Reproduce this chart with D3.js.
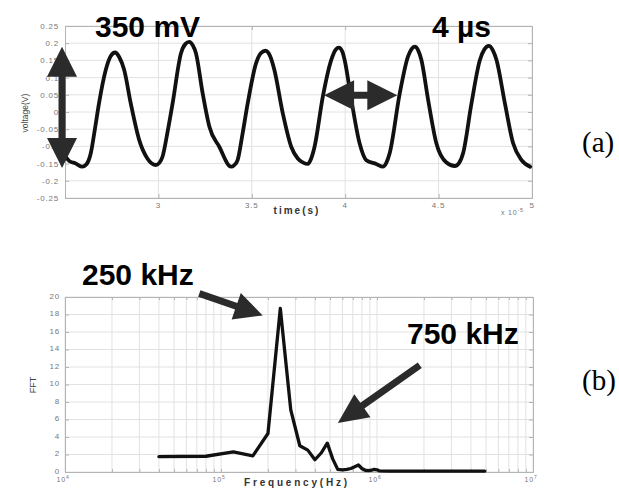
<!DOCTYPE html>
<html>
<head>
<meta charset="utf-8">
<script src="https://cdn.jsdelivr.net/npm/d3@7"></script>
<style>
  html, body { margin: 0; padding: 0; background: #fff; }
  svg { display: block; }
</style>
</head>
<body>
<svg id="fig" width="619" height="489"></svg>
<script>
// ---- (a) time-domain waveform: time in units of 1e-5 s, voltage in V ----
const timeVals = [2.500, 2.527, 2.555, 2.593, 2.615, 2.638, 2.660, 2.682, 2.718, 2.745, 2.768, 2.790, 2.817, 2.852, 2.897, 2.941, 2.987,
  3.005, 3.022, 3.050, 3.076, 3.121, 3.145, 3.165, 3.185, 3.201, 3.237, 3.273, 3.326, 3.389,
  3.405, 3.424, 3.450, 3.478, 3.523, 3.550, 3.573, 3.600, 3.621, 3.666, 3.711, 3.746, 3.775, 3.800,
  3.818, 3.836, 3.880, 3.925, 3.950, 3.966, 3.985, 3.997, 4.033, 4.077, 4.113, 4.166, 4.202,
  4.220, 4.238, 4.292, 4.336, 4.355, 4.372, 4.390, 4.408, 4.444, 4.488, 4.542, 4.587,
  4.610, 4.631, 4.676, 4.721, 4.745, 4.769, 4.790, 4.810, 4.855, 4.899, 4.944, 4.990];
const voltVals = [-0.128, -0.144, -0.149, -0.159, -0.152, -0.120, -0.050, 0.025, 0.122, 0.163, 0.173, 0.160, 0.122, 0.025, -0.081, -0.135, -0.154,
  -0.148, -0.130, -0.055, 0.025, 0.171, 0.198, 0.204, 0.193, 0.171, 0.054, -0.043, -0.101, -0.159,
  -0.155, -0.140, -0.065, 0.025, 0.142, 0.172, 0.178, 0.160, 0.122, -0.004, -0.101, -0.135, -0.147, -0.151,
  -0.135, -0.101, 0.044, 0.151, 0.182, 0.187, 0.175, 0.151, 0.035, -0.091, -0.140, -0.151, -0.159,
  -0.148, -0.120, 0.054, 0.161, 0.183, 0.190, 0.180, 0.151, 0.035, -0.091, -0.147, -0.157,
  -0.148, -0.120, 0.025, 0.151, 0.182, 0.192, 0.180, 0.151, 0.025, -0.091, -0.140, -0.159];
const timeTicks = [3, 3.5, 4, 4.5, 5];
const timeTickLabels = ["3", "3.5", "4", "4.5", "5"];
const voltTicks = [-0.25, -0.2, -0.15, -0.1, -0.05, 0, 0.05, 0.1, 0.15, 0.2, 0.25];
const voltTickLabels = ["-0.25", "-0.2", "-0.15", "-0.1", "-0.05", "0", "0.05", "0.1", "0.15", "0.2", "0.25"];

// ---- (b) spectrum: frequency in Hz, FFT magnitude ----
const freqVals = [40e3, 80e3, 120e3, 160e3, 200e3, 240e3, 280e3, 320e3, 360e3, 400e3, 440e3, 480e3, 520e3, 560e3,
  600e3, 640e3, 680e3, 720e3, 760e3, 800e3, 840e3, 880e3, 920e3, 960e3, 1000e3, 1040e3, 1200e3, 4.9e6];
const fftVals = [1.75, 1.8, 2.3, 1.85, 4.4, 18.7, 7.1, 3.0, 2.5, 1.4, 2.2, 3.3, 1.5, 0.3,
  0.25, 0.3, 0.4, 0.6, 0.8, 0.4, 0.2, 0.15, 0.2, 0.3, 0.25, 0.12, 0.1, 0.1];
const fftTicks = [0, 2, 4, 6, 8, 10, 12, 14, 16, 18, 20];
const fftTickLabels = ["0", "2", "4", "6", "8", "10", "12", "14", "16", "18", "20"];
const freqDecades = [4, 5, 6, 7];

// ---- annotations (data coordinates) ----
const ampArrow = { t: 2.484, v1: 0.19, v2: -0.163, label: "350 mV" };
const periodArrow = { v: 0.049, t1: 3.887, t2: 4.279, label: "4 \u00b5s" };
const fundArrow = { f1: 72.6e3, a1: 20.4, f2: 185e3, a2: 17.9, label: "250 kHz" };
const harmArrow = { f1: 1.88e6, a1: 12.2, f2: 561e3, a2: 5.6, label: "750 kHz" };

const svg = d3.select("#fig");
const GRID = "#e2e2e2", BOX = "#b4b4b4", TICKTXT = "#777";
const ARROW = "#2b2b2b";

function arrowPath(x1, y1, x2, y2, L, W, s, both) {
  const dx = x2 - x1, dy = y2 - y1, len = Math.hypot(dx, dy);
  const ux = dx / len, uy = dy / len, nx = -uy, ny = ux;
  const P = (bx, by, k) => [bx + nx * k, by + ny * k];
  const b2x = x2 - ux * L, b2y = y2 - uy * L;
  let pts;
  if (both) {
    const b1x = x1 + ux * L, b1y = y1 + uy * L;
    pts = [[x1, y1], P(b1x, b1y, W), P(b1x, b1y, s), P(b2x, b2y, s), P(b2x, b2y, W), [x2, y2],
      P(b2x, b2y, -W), P(b2x, b2y, -s), P(b1x, b1y, -s), P(b1x, b1y, -W)];
  } else {
    pts = [P(x1, y1, s), P(b2x, b2y, s), P(b2x, b2y, W), [x2, y2], P(b2x, b2y, -W), P(b2x, b2y, -s), P(x1, y1, -s)];
  }
  return "M" + pts.map(p => p[0].toFixed(2) + "," + p[1].toFixed(2)).join("L") + "Z";
}

function tickText(g, x, y, str, anchor) {
  return g.append("text").attr("x", x).attr("y", y).attr("text-anchor", anchor)
    .attr("font-family", "Liberation Sans, Arial, sans-serif").attr("font-size", 8)
    .attr("letter-spacing", 0.8).attr("fill", TICKTXT).text(str);
}

// ================= panel (a) =================
{
  const L = 65, R = 532, T = 26, B = 198;
  const x = d3.scaleLinear().domain([2.5, 5]).range([L, R]);
  const y = d3.scaleLinear().domain([-0.25, 0.25]).range([B, T]);
  const g = svg.append("g");

  // grid
  g.selectAll(".gx").data(timeTicks).join("line")
    .attr("x1", d => x(d)).attr("x2", d => x(d)).attr("y1", T).attr("y2", B)
    .attr("stroke", GRID).attr("stroke-width", 1);
  g.selectAll(".gy").data(voltTicks).join("line")
    .attr("x1", L).attr("x2", R).attr("y1", d => y(d)).attr("y2", d => y(d))
    .attr("stroke", GRID).attr("stroke-width", 1);

  // axes (inward ticks on all sides)
  const ax = g.append("g").attr("class", "axes");
  ax.append("g").attr("transform", `translate(0,${B})`)
    .call(d3.axisBottom(x).tickValues(timeTicks).tickSize(-4).tickFormat(() => ""));
  ax.append("g").attr("transform", `translate(0,${T})`)
    .call(d3.axisTop(x).tickValues(timeTicks).tickSize(-4).tickFormat(() => ""));
  ax.append("g").attr("transform", `translate(${L},0)`)
    .call(d3.axisLeft(y).tickValues(voltTicks).tickSize(-4).tickFormat(() => ""));
  ax.append("g").attr("transform", `translate(${R},0)`)
    .call(d3.axisRight(y).tickValues(voltTicks).tickSize(-4).tickFormat(() => ""));
  ax.selectAll("path, line").attr("stroke", BOX);

  // tick labels
  voltTicks.forEach((v, i) => tickText(g, L - 6, y(v) + 3, voltTickLabels[i], "end"));
  timeTicks.forEach((t, i) => tickText(g, x(t), B + 10, timeTickLabels[i], "middle"));
  const ex = g.append("text").attr("x", 501).attr("y", 215)
    .attr("font-family", "Liberation Sans, Arial, sans-serif").attr("font-size", 7)
    .attr("letter-spacing", 0.8).attr("fill", TICKTXT);
  ex.append("tspan").text("x 10");
  ex.append("tspan").attr("dy", -3).attr("font-size", 5.5).text("-5");

  // axis titles
  g.append("text").attr("transform", `translate(28,113) rotate(-90)`).attr("text-anchor", "middle")
    .attr("font-family", "Liberation Sans, Arial, sans-serif").attr("font-size", 8.5)
    .attr("fill", "#444").text("voltage(V)");
  g.append("text").attr("x", 297).attr("y", 214).attr("text-anchor", "middle")
    .attr("font-family", "Liberation Sans, Arial, sans-serif").attr("font-size", 10)
    .attr("font-weight", "bold").attr("letter-spacing", 2).attr("fill", "#333").text("time(s)");

  // waveform
  const pts = timeVals.map((t, i) => [t, voltVals[i]]);
  g.append("path").datum(pts)
    .attr("d", d3.line().x(d => x(d[0])).y(d => y(d[1])).curve(d3.curveMonotoneX))
    .attr("fill", "none").attr("stroke", "#111").attr("stroke-width", 3.8)
    .attr("stroke-linejoin", "round").attr("stroke-linecap", "round");

  // annotations
  g.append("path").attr("d", arrowPath(x(ampArrow.t), y(ampArrow.v1), x(ampArrow.t), y(ampArrow.v2), 30, 15, 3.5, true))
    .attr("fill", ARROW);
  g.append("path").attr("d", arrowPath(x(periodArrow.t1), y(periodArrow.v), x(periodArrow.t2), y(periodArrow.v), 30, 15, 3.5, true))
    .attr("fill", ARROW);
  g.append("text").attr("x", 95).attr("y", 36.5)
    .attr("font-family", "Liberation Sans, Arial, sans-serif").attr("font-size", 30).attr("font-weight", "bold")
    .attr("fill", "#000").text(ampArrow.label);
  g.append("text").attr("x", 432).attr("y", 36.5)
    .attr("font-family", "Liberation Sans, Arial, sans-serif").attr("font-size", 30).attr("font-weight", "bold")
    .attr("fill", "#000").text(periodArrow.label);

  g.append("text").attr("x", 582).attr("y", 152)
    .attr("font-family", "Liberation Serif, Times New Roman, serif").attr("font-size", 29)
    .attr("fill", "#000").text("(a)");
}

// ================= panel (b) =================
{
  const L = 65, R = 533, T = 297, B = 472;
  const x = d3.scaleLog().domain([1e4, 1e7]).range([L, R]);
  const y = d3.scaleLinear().domain([0, 20]).range([B, T]);
  const g = svg.append("g");

  // log grid: 1..9 per decade
  const minor = [];
  for (let e = 4; e < 7; e++) for (let m = 1; m <= 9; m++) minor.push(m * Math.pow(10, e));
  minor.push(1e7);
  g.selectAll(".gx").data(minor).join("line")
    .attr("x1", d => x(d)).attr("x2", d => x(d)).attr("y1", T).attr("y2", B)
    .attr("stroke", GRID).attr("stroke-width", 1);
  g.selectAll(".gy").data(fftTicks).join("line")
    .attr("x1", L).attr("x2", R).attr("y1", d => y(d)).attr("y2", d => y(d))
    .attr("stroke", GRID).attr("stroke-width", 1);

  const ax = g.append("g");
  ax.append("g").attr("transform", `translate(0,${B})`)
    .call(d3.axisBottom(x).tickValues(minor).tickSize(-3).tickFormat(() => ""));
  ax.append("g").attr("transform", `translate(0,${T})`)
    .call(d3.axisTop(x).tickValues(minor).tickSize(-3).tickFormat(() => ""));
  ax.append("g").attr("transform", `translate(${L},0)`)
    .call(d3.axisLeft(y).tickValues(fftTicks).tickSize(-4).tickFormat(() => ""));
  ax.append("g").attr("transform", `translate(${R},0)`)
    .call(d3.axisRight(y).tickValues(fftTicks).tickSize(-4).tickFormat(() => ""));
  ax.selectAll("path, line").attr("stroke", BOX);

  fftTicks.forEach((v, i) => tickText(g, L - 5, y(v) + 1.5, fftTickLabels[i], "end"));
  freqDecades.forEach(e => {
    const t = g.append("text").attr("x", x(Math.pow(10, e)) - 2).attr("y", B + 10).attr("text-anchor", "middle")
      .attr("font-family", "Liberation Sans, Arial, sans-serif").attr("font-size", 7)
      .attr("letter-spacing", 0.8).attr("fill", TICKTXT);
    t.append("tspan").text("10");
    t.append("tspan").attr("dy", -3).attr("font-size", 5).text(String(e));
  });

  g.append("text").attr("transform", `translate(36,385) rotate(-90)`).attr("text-anchor", "middle")
    .attr("font-family", "Liberation Sans, Arial, sans-serif").attr("font-size", 9)
    .attr("fill", "#444").text("FFT");
  g.append("text").attr("x", 297).attr("y", 486).attr("text-anchor", "middle")
    .attr("font-family", "Liberation Sans, Arial, sans-serif").attr("font-size", 10)
    .attr("font-weight", "bold").attr("letter-spacing", 2.8).attr("fill", "#333").text("Frequency(Hz)");

  const pts = freqVals.map((f, i) => [f, fftVals[i]]);
  g.append("path").datum(pts)
    .attr("d", d3.line().x(d => x(d[0])).y(d => y(d[1])))
    .attr("fill", "none").attr("stroke", "#111").attr("stroke-width", 3.3)
    .attr("stroke-linejoin", "round").attr("stroke-linecap", "round");

  g.append("path").attr("d", arrowPath(x(fundArrow.f1), y(fundArrow.a1), x(fundArrow.f2), y(fundArrow.a2), 28, 14, 3.5, false))
    .attr("fill", ARROW);
  g.append("path").attr("d", arrowPath(x(harmArrow.f1), y(harmArrow.a1), x(harmArrow.f2), y(harmArrow.a2), 30, 14, 3.5, false))
    .attr("fill", ARROW);
  g.append("text").attr("x", 82).attr("y", 285)
    .attr("font-family", "Liberation Sans, Arial, sans-serif").attr("font-size", 30).attr("font-weight", "bold")
    .attr("fill", "#000").text(fundArrow.label);
  g.append("text").attr("x", 407).attr("y", 343.5)
    .attr("font-family", "Liberation Sans, Arial, sans-serif").attr("font-size", 30).attr("font-weight", "bold")
    .attr("fill", "#000").text(harmArrow.label);

  g.append("text").attr("x", 582).attr("y", 390)
    .attr("font-family", "Liberation Serif, Times New Roman, serif").attr("font-size", 29)
    .attr("fill", "#000").text("(b)");
}
</script>
</body>
</html>
